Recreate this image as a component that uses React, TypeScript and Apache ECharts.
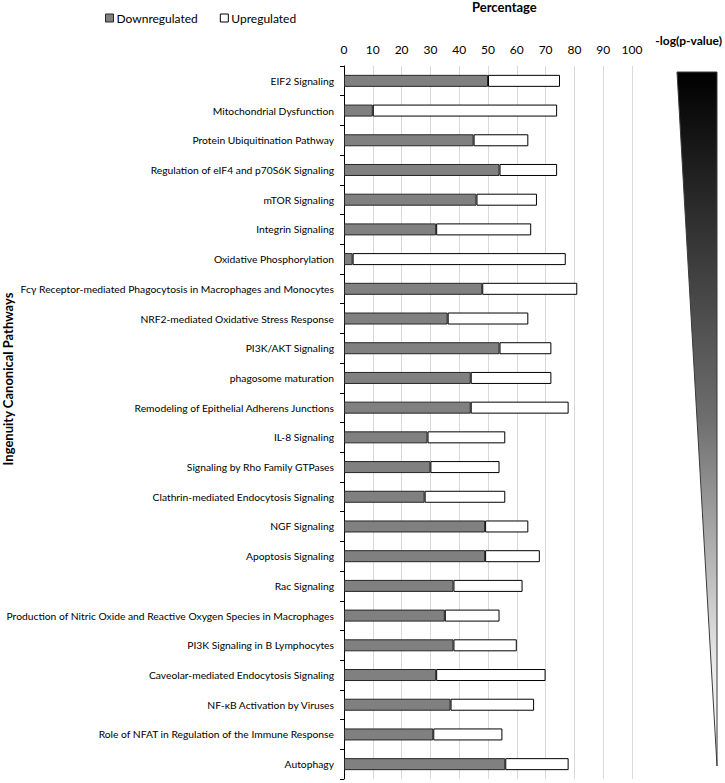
import React, { useEffect, useRef } from "react";
import * as echarts from "echarts";

const categories = [
  "EIF2 Signaling",
  "Mitochondrial Dysfunction",
  "Protein Ubiquitination Pathway",
  "Regulation of eIF4 and p70S6K Signaling",
  "mTOR Signaling",
  "Integrin Signaling",
  "Oxidative Phosphorylation",
  "Fcγ Receptor-mediated Phagocytosis in Macrophages and Monocytes",
  "NRF2-mediated Oxidative Stress Response",
  "PI3K/AKT Signaling",
  "phagosome maturation",
  "Remodeling of Epithelial Adherens Junctions",
  "IL-8 Signaling",
  "Signaling by Rho Family GTPases",
  "Clathrin-mediated Endocytosis Signaling",
  "NGF Signaling",
  "Apoptosis Signaling",
  "Rac Signaling",
  "Production of Nitric Oxide and Reactive Oxygen Species in Macrophages",
  "PI3K Signaling in B Lymphocytes",
  "Caveolar-mediated Endocytosis Signaling",
  "NF-κB Activation by Viruses",
  "Role of NFAT in Regulation of the Immune Response",
  "Autophagy",
];

const downregulated = [50, 10, 45, 54, 46, 32, 3, 48, 36, 54, 44, 44, 29, 30, 28, 49, 49, 38, 35, 38, 32, 37, 31, 56];
const upregulated = [25, 64, 19, 20, 21, 33, 74, 33, 28, 18, 28, 34, 27, 24, 28, 15, 19, 24, 19, 22, 38, 29, 24, 22];

const xTicks = [0, 10, 20, 30, 40, 50, 60, 70, 80, 90, 100];

const FONT = "Lato";

export default function App() {
  const ref = useRef<HTMLDivElement>(null);
  useEffect(() => {
    if (!ref.current) return;
    const chart = echarts.init(ref.current, undefined, { renderer: "svg" });
    chart.setOption({
      animation: false,
      textStyle: { fontFamily: FONT },
      grid: { left: 344, right: 93, top: 66, bottom: 4, containLabel: false, outerBoundsMode: "none" },
      legend: {
        left: 100,
        top: 7,
        itemWidth: 8,
        itemHeight: 8,
        itemGap: 22,
        icon: "rect",
        textStyle: { fontFamily: FONT, fontSize: 12, color: "#000", padding: [0, 0, 0, -2] },
        data: [
          { name: "Downregulated", itemStyle: { color: "#808080", borderColor: "#262626", borderWidth: 1 } },
          { name: "Upregulated", itemStyle: { color: "#ffffff", borderColor: "#000", borderWidth: 1 } },
        ],
      },
      xAxis: {
        type: "value",
        position: "top",
        min: xTicks[0],
        max: xTicks[xTicks.length - 1],
        interval: 10,
        axisLine: { show: false },
        axisTick: { show: false },
        axisLabel: { color: "#000", fontSize: 12, fontFamily: FONT, margin: 11 },
        splitLine: { show: true, lineStyle: { color: "#d9d9d9", width: 1 } },
      },
      yAxis: {
        type: "category",
        inverse: true,
        data: categories,
        axisLine: { show: true, lineStyle: { color: "#000", width: 1 } },
        axisTick: { show: true, length: 4, lineStyle: { color: "#000" } },
        axisLabel: { color: "#000", fontSize: 10.3, fontFamily: FONT, margin: 10 },
        splitLine: { show: false },
      },
      series: [
        {
          name: "Downregulated",
          type: "bar",
          stack: "total",
          barWidth: 12,
          data: downregulated,
          itemStyle: { color: "#808080", borderColor: "#262626", borderWidth: 1 },
        },
        {
          name: "Upregulated",
          type: "bar",
          stack: "total",
          barWidth: 12,
          data: upregulated,
          itemStyle: { color: "#ffffff", borderColor: "#000", borderWidth: 1 },
        },
      ],
      graphic: [
        {
          type: "text",
          left: 472,
          top: 0,
          style: { text: "Percentage", font: `bold 13px ${FONT}`, fill: "#000" },
        },
        {
          type: "text",
          right: 3,
          top: 34,
          style: { text: "-log(p-value)", font: `bold 12px ${FONT}`, fill: "#000" },
        },
        {
          type: "text",
          x: 8,
          y: 379,
          rotation: Math.PI / 2,
          style: {
            text: "Ingenuity Canonical Pathways",
            font: `bold 13px ${FONT}`,
            fill: "#000",
            align: "center",
            verticalAlign: "middle",
          },
        },
        {
          type: "polygon",
          shape: { points: [[677, 72], [717, 72], [717, 766]] },
          style: {
            fill: new echarts.graphic.LinearGradient(0, 0, 0, 1, [
              { offset: 0, color: "#000000" },
              { offset: 0.5, color: "#6e6e6e" },
              { offset: 0.85, color: "#e8e8e8" },
              { offset: 1, color: "#ffffff" },
            ]),
            stroke: "#3a3a3a",
            lineWidth: 1,
          },
        },
      ],
    });
    return () => chart.dispose();
  }, []);
  return <div ref={ref} style={{ width: 725, height: 783, position: "absolute", left: 0, top: 0 }} />;
}
